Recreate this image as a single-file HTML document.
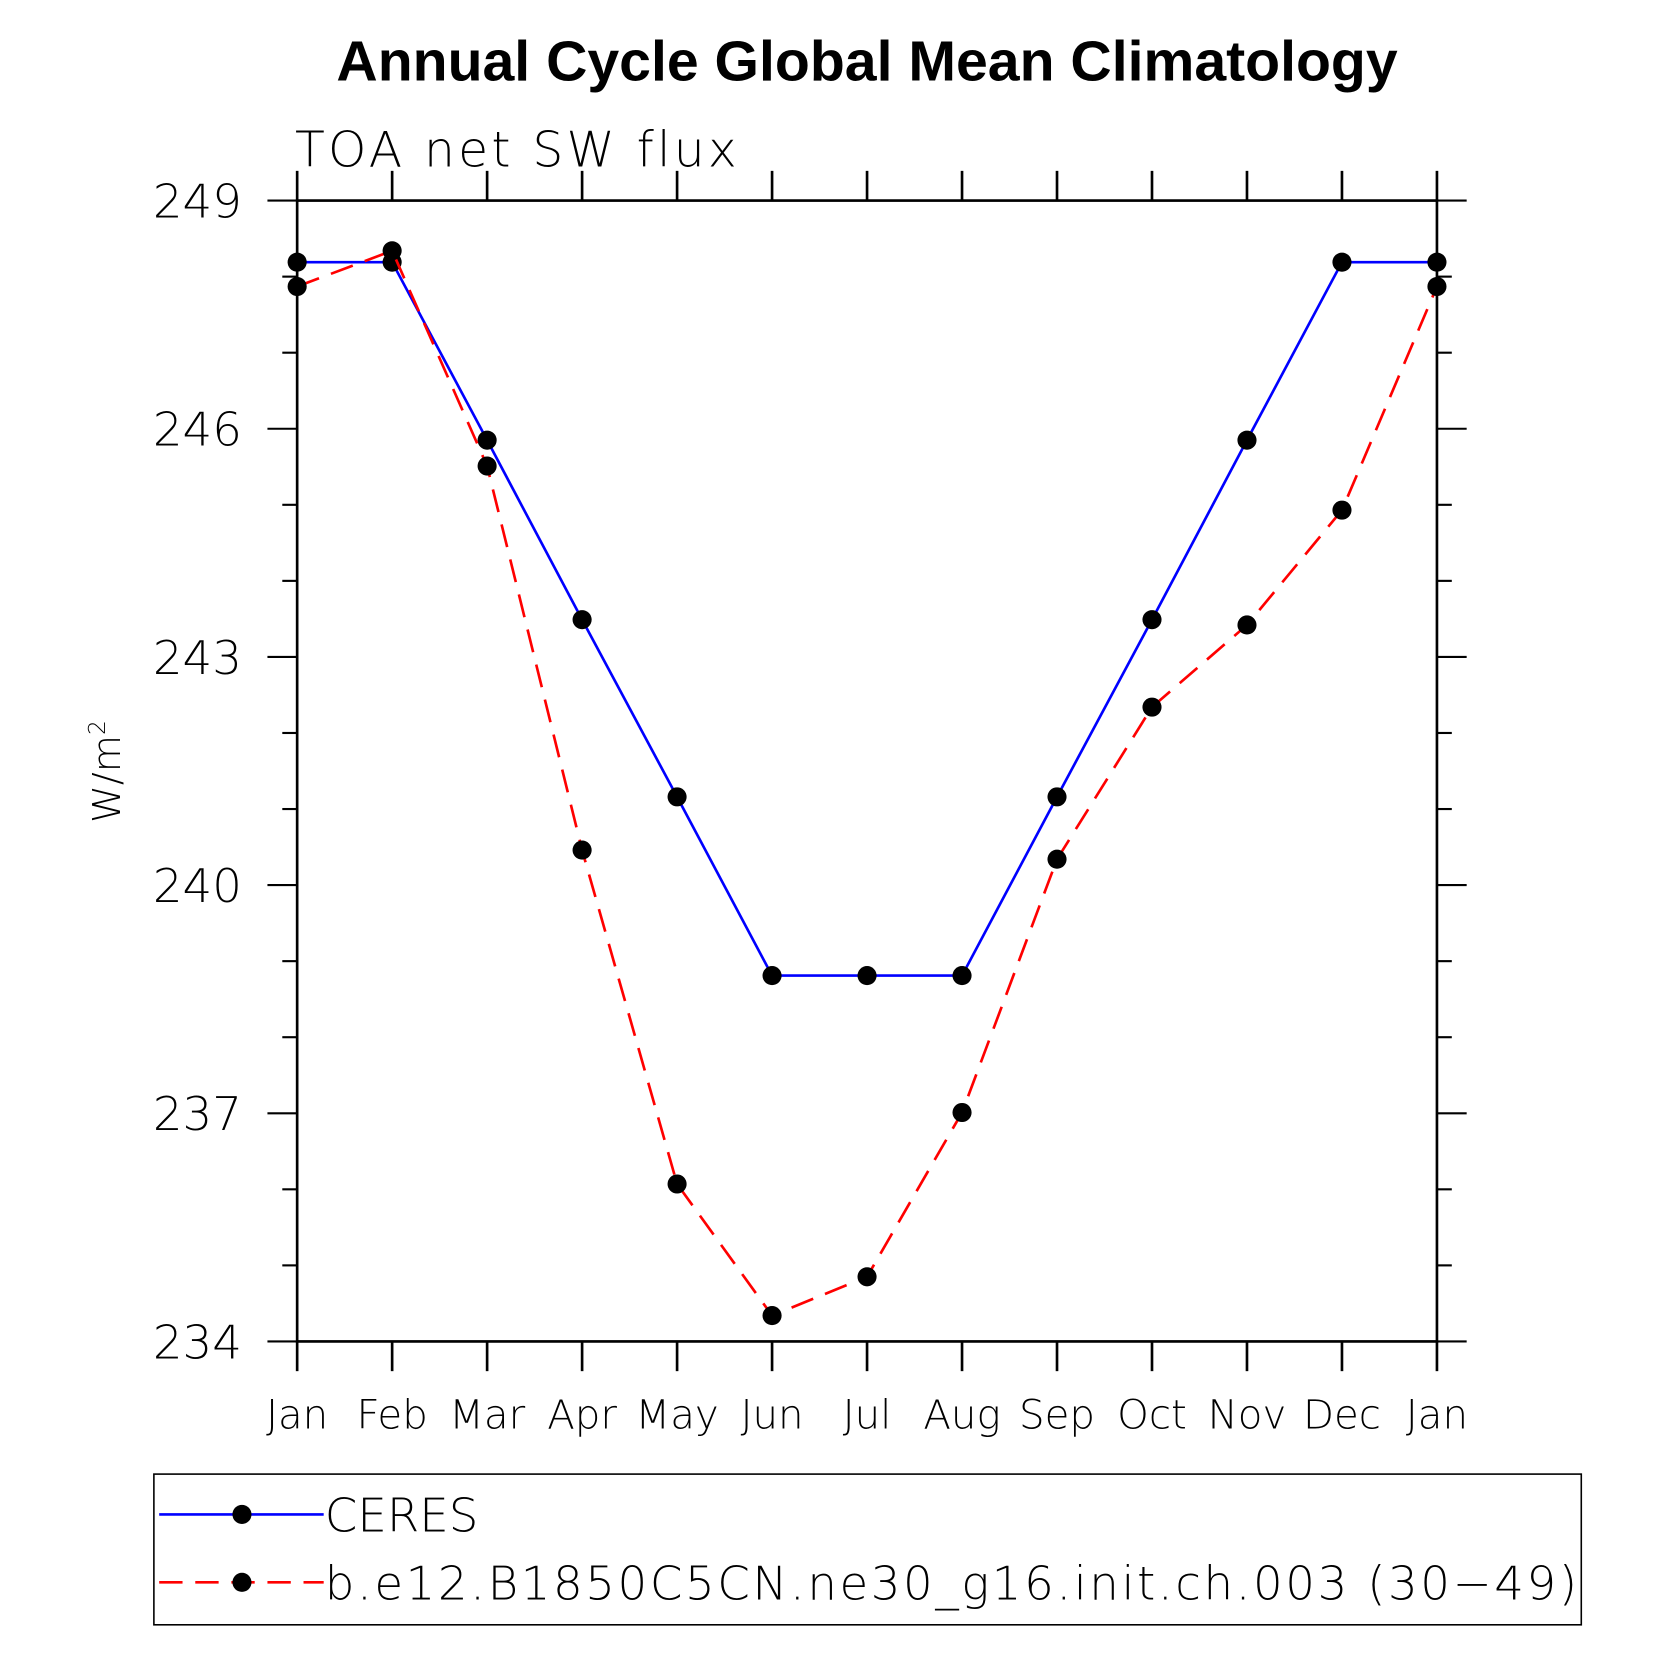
<!DOCTYPE html>
<html><head><meta charset="utf-8"><style>
html,body{margin:0;padding:0;background:#fff}
svg{display:block}
text{font-family:"DejaVu Sans","Liberation Sans",sans-serif}
</style></head><body>
<svg width="1663" height="1663" viewBox="0 0 1567 1567">
<rect width="1567" height="1567" fill="#fff"/>
<text x="817" y="76" text-anchor="middle" font-weight="bold" font-size="53" textLength="1000" lengthAdjust="spacingAndGlyphs" style="font-family:'Liberation Sans',sans-serif">Annual Cycle Global Mean Climatology</text>
<text x="278" y="157" font-size="46" font-weight="200" letter-spacing="3" style="font-family:'DejaVu Sans ExtraLight','DejaVu Sans',sans-serif">TOA net SW flux</text>
<text transform="translate(113,727) rotate(-90)" text-anchor="middle" font-size="36" font-weight="200" style="font-family:'DejaVu Sans ExtraLight','DejaVu Sans',sans-serif">W/m<tspan dy="-14" font-size="22">2</tspan></text>
<g id="axes"></g>
<g id="series"></g>
<rect x="145" y="1389" width="1345" height="142" fill="none" stroke="#000" stroke-width="1.5"/>
<g>
<line x1="150" y1="1427" x2="305" y2="1427" stroke="#00f" stroke-width="2.5"/>
<circle cx="228" cy="1427" r="9"/>
<text x="306" y="1443" font-size="44" font-weight="200" style="font-family:'DejaVu Sans ExtraLight','DejaVu Sans',sans-serif">CERES</text>
</g>
<g>
<line x1="150" y1="1491" x2="305" y2="1491" stroke="#f00" stroke-width="2.5" stroke-dasharray="22,12"/>
<circle cx="228" cy="1491" r="9"/>
<text x="306" y="1507" font-size="44" font-weight="200" textLength="1180" style="font-family:'DejaVu Sans ExtraLight','DejaVu Sans',sans-serif">b.e12.B1850C5CN.ne30_g16.init.ch.003 (30−49)</text>
</g>
</svg>
<script>
const months = ["Jan","Feb","Mar","Apr","May","Jun","Jul","Aug","Sep","Oct","Nov","Dec","Jan"];
const ceresValues = [248.19,248.19,245.85,243.49,241.16,238.81,238.81,238.81,241.16,243.49,245.85,248.19,248.19];
const modelValues = [247.87,248.34,245.51,240.46,236.07,234.34,234.85,237.01,240.34,242.34,243.42,244.93,247.87];
const yTickLabels = [234,237,240,243,246,249];

const NS="http://www.w3.org/2000/svg";
const L=280,R=1354,T=189,B=1264,YMIN=234,YMAX=249;
const xS=i=>L+(R-L)*i/(months.length-1);
const yS=v=>B-(v-YMIN)/(YMAX-YMIN)*(B-T);
function mk(tag,attrs,parent){const e=document.createElementNS(NS,tag);for(const k in attrs)e.setAttribute(k,attrs[k]);parent.appendChild(e);return e;}
const ax=document.getElementById('axes');
const frame=mk('rect',{x:L,y:T,width:R-L,height:B-T,fill:'none',stroke:'#000','stroke-width':2.5},ax);


months.forEach((m,i)=>{
  const x=xS(i);
  mk('line',{x1:x,y1:B,x2:x,y2:B+28,stroke:'#000','stroke-width':2.5},ax);
  mk('line',{x1:x,y1:T,x2:x,y2:T-28,stroke:'#000','stroke-width':2.5},ax);
  const t=mk('text',{x:x,y:1346,'text-anchor':'middle','font-size':38,'font-weight':200,style:"font-family:'DejaVu Sans ExtraLight','DejaVu Sans',sans-serif"},ax);
  t.textContent=m;
  
  
});
for(let v=YMIN;v<=YMAX;v++){
  const y=yS(v);const major=yTickLabels.includes(v);const len=major?28:14;
  mk('line',{x1:L-len,y1:y,x2:L,y2:y,stroke:'#000','stroke-width':2},ax);
  mk('line',{x1:R,y1:y,x2:R+len,y2:y,stroke:'#000','stroke-width':2},ax);
}
yTickLabels.forEach(v=>{
  const t=mk('text',{x:228,y:yS(v)+16,'text-anchor':'end','font-size':44,'font-weight':200,style:"font-family:'DejaVu Sans ExtraLight','DejaVu Sans',sans-serif"},ax);
  t.textContent=v;
  
  
});
const sg=document.getElementById('series');
function series(vals,color,dash,name){
  const g=mk('g',{},sg);
  
  
  const pts=vals.map((v,i)=>xS(i)+','+yS(v)).join(' ');
  const a={points:pts,fill:'none',stroke:color,'stroke-width':2.5};
  if(dash)a['stroke-dasharray']=dash;
  mk('polyline',a,g);
  vals.forEach((v,i)=>{
    const c=mk('circle',{cx:xS(i),cy:yS(v),r:9,fill:'#000'},g);
    
    
  });
}
series(ceresValues,'#00f',null,'series-ceres');
series(modelValues,'#f00','22,12','series-model');
</script>
</body></html>
